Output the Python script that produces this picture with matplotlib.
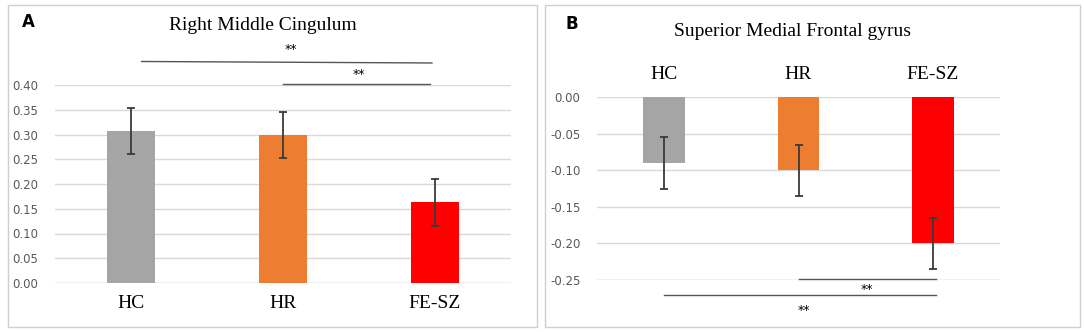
import matplotlib.pyplot as plt
from matplotlib.patches import Rectangle

# Données
groupes = ["HC", "HR", "FE-SZ"]
couleurs = ["#a5a5a5", "#ed7d31", "#ff0000"]

cingulum = [0.307, 0.299, 0.163]
cingulum_err = [0.047, 0.047, 0.047]

frontal = [-0.090, -0.100, -0.200]
frontal_err = [0.036, 0.035, 0.035]

W, H = 1084, 332
fig = plt.figure(figsize=(W / 100, H / 100), dpi=100)
serif = "Liberation Serif"
grille = "#d9d9d9"
texte = "#595959"


def px_axes(x0, y0, x1, y1):
    return fig.add_axes([x0 / W, 1 - y1 / H, (x1 - x0) / W, (y1 - y0) / H])


# cadres des panneaux
fig.add_artist(Rectangle((8 / W, 1 - 327 / H), 529 / W, 322 / H, transform=fig.transFigure,
                         fill=False, edgecolor="#cfcfcf", lw=1))
fig.add_artist(Rectangle((545 / W, 1 - 327 / H), 535 / W, 322 / H, transform=fig.transFigure,
                         fill=False, edgecolor="#cfcfcf", lw=1))

x = range(len(groupes))

# Panneau A
ax1 = px_axes(55, 85, 511, 283)
ax1.bar(x, cingulum, width=0.31, color=couleurs, zorder=2)
ax1.errorbar(x, cingulum, yerr=cingulum_err, fmt="none", ecolor="#3a3a3a",
             elinewidth=1.3, capsize=3, capthick=1.3, zorder=3)
ax1.set_xlim(-0.5, 2.5)
ax1.set_ylim(0, 0.40)
ax1.set_yticks([0.0, 0.05, 0.10, 0.15, 0.20, 0.25, 0.30, 0.35, 0.40])
ax1.set_yticklabels([f"{v:.2f}" for v in ax1.get_yticks()])
ax1.set_xticks(list(x))
ax1.set_xticklabels(groupes, fontfamily=serif, fontsize=14, color="black")
ax1.tick_params(axis="x", length=0, pad=9)
ax1.tick_params(axis="y", length=0, pad=12, labelsize=8.5, labelcolor=texte)
ax1.grid(axis="y", color=grille, lw=1, zorder=0)
for s in ax1.spines.values():
    s.set_visible(False)
ax1.axhline(0, color=grille, lw=1, zorder=1)
fig.text(263 / W, 1 - 26 / H, "Right Middle Cingulum", ha="center", va="center",
         fontfamily=serif, fontsize=14)
fig.text(28 / W, 1 - 22 / H, "A", ha="center", va="center", fontweight="bold", fontsize=12)

# barres de significativité A
ax1.plot([0.07, 1.98], [0.4475, 0.4445], color="#555555", lw=1, clip_on=False)
ax1.text(1.05, 0.472, "**", ha="center", va="center", fontsize=9, clip_on=False)
ax1.plot([1.0, 1.97], [0.402, 0.402], color="#555555", lw=1, clip_on=False)
ax1.text(1.5, 0.422, "**", ha="center", va="center", fontsize=9, clip_on=False)

# Panneau B
ax2 = px_axes(597, 97, 1000, 280)
ax2.bar(x, frontal, width=0.31, color=couleurs, zorder=2)
ax2.errorbar(x, frontal, yerr=frontal_err, fmt="none", ecolor="#3a3a3a",
             elinewidth=1.3, capsize=3, capthick=1.3, zorder=3)
ax2.set_xlim(-0.5, 2.5)
ax2.set_ylim(-0.25, 0)
ax2.set_yticks([-0.25, -0.20, -0.15, -0.10, -0.05, 0.0])
ax2.set_yticklabels([f"{v:.2f}" if v != 0 else "0.00" for v in ax2.get_yticks()])
ax2.xaxis.tick_top()
ax2.set_xticks(list(x))
ax2.set_xticklabels(groupes, fontfamily=serif, fontsize=14, color="black")
ax2.tick_params(axis="x", length=0, pad=10)
ax2.tick_params(axis="y", length=0, pad=12, labelsize=8.5, labelcolor=texte)
ax2.grid(axis="y", color=grille, lw=1, zorder=0)
for s in ax2.spines.values():
    s.set_visible(False)
ax2.axhline(-0.25, color=grille, lw=1, zorder=1)
fig.text(792 / W, 1 - 31 / H, "Superior Medial Frontal gyrus", ha="center", va="center",
         fontfamily=serif, fontsize=14)
fig.text(572 / W, 1 - 24 / H, "B", ha="center", va="center", fontweight="bold", fontsize=12)

# barres de significativité B
ax2.plot([1.0, 2.02], [-0.2485, -0.2485], color="#555555", lw=1, clip_on=False)
ax2.text(1.51, -0.2635, "**", ha="center", va="center", fontsize=9, clip_on=False)
ax2.plot([0.0, 2.02], [-0.271, -0.271], color="#555555", lw=1, clip_on=False)
ax2.text(1.04, -0.291, "**", ha="center", va="center", fontsize=9, clip_on=False)

fig.savefig("out.png", dpi=100, facecolor="white")
